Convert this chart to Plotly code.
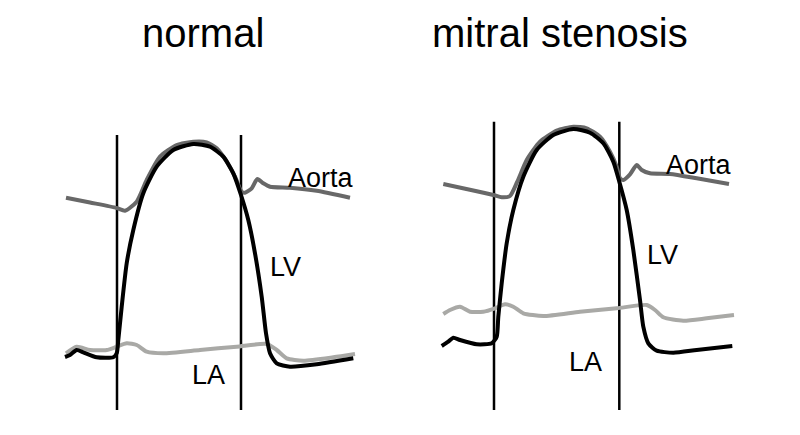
import plotly.graph_objects as go

# ---- normal panel (time in px-like units, pressure in screen-like units, y grows downward) ----
n_valve_t = [117, 241]
n_valve_y = [135, 410]

n_aorta_t = [66, 90, 116.7, 125, 136.7, 146.7, 160, 176.7, 193.3, 206.7, 216.7, 226.7, 235, 241.7,
             245, 251.7, 257.3, 263.3, 270, 290, 316.7, 350]
n_aorta_p = [197.7, 202.5, 208, 210.7, 201.7, 180, 156.7, 145, 141.7, 142.3, 148.3, 161.7, 176.7, 191.7,
             192.7, 188.3, 179, 183.3, 186.7, 187.7, 190.7, 197.7]

n_lv_t = [65, 70, 76.7, 83.3, 96.7, 113.3, 116.7, 118.3, 121.7, 126.7, 133.3, 143.3, 156.7, 173.3, 193.3,
          210, 223.3, 233.3, 241, 248.3, 255, 261.7, 266, 270, 276.7, 290, 316.7, 353.3]
n_lv_p = [357, 355, 350, 352.3, 357.3, 357.3, 353.3, 340, 306.7, 263.3, 230, 193.3, 166.7, 150, 144,
          146.7, 156.7, 173.3, 195, 220, 253.3, 296.7, 333.3, 353.3, 363.3, 366.7, 364.3, 358.3]

n_la_t = [66, 76.7, 90, 106.7, 116.7, 126.7, 136.7, 146.7, 163.3, 200, 236.7, 266.7, 276.7, 286.7,
          303.3, 333.3, 355]
n_la_p = [353.3, 346.7, 350, 350, 346.7, 343.3, 345, 351.7, 353.3, 350, 346.7, 344, 350, 358.3,
          360.7, 357.3, 354]

# ---- mitral stenosis panel ----
m_valve_t = [494, 619.3]
m_valve_y = [121.7, 410]

m_aorta_t = [443.3, 493.3, 501.7, 510, 517.3, 526.7, 540, 556.7, 573.3, 586.7, 600, 610, 616.7, 620,
             623.3, 630, 636.7, 641.7, 650, 670, 696.7, 729]
m_aorta_p = [184, 195, 197.3, 196, 181.7, 160, 141.7, 130.7, 126.7, 128.3, 136.7, 151.7, 166.7, 178.3,
             180, 174.3, 165, 170, 173.3, 174, 178.3, 184]

m_lv_t = [441.7, 448.3, 453.3, 460, 476.7, 491.7, 496.7, 498.3, 501.7, 506.7, 513.3, 523.3, 536.7, 553.3,
          573.3, 590, 603.3, 613.3, 619.3, 626.7, 633.3, 640, 643.3, 648.3, 656.7, 673.3, 696.7, 732.3]
m_lv_p = [346, 341.7, 337.7, 340, 344.3, 343.3, 336.7, 316.7, 283.3, 243.3, 210, 176.7, 150, 135,
          129, 132.7, 143.3, 161.7, 181.7, 210, 250, 300, 326.7, 343.3, 350.7, 352.7, 350, 346]

m_la_t = [443.3, 450, 460, 470, 483.3, 495, 505, 513.3, 523.3, 543.3, 580, 616.7, 646.7, 655, 663.3,
          683.3, 706.7, 734]
m_la_p = [314, 310, 306.7, 311.7, 311.7, 308.3, 304.3, 306.7, 313.3, 316, 311.7, 308.3, 305, 310, 317.3,
          320.7, 318.3, 315]

titles = ["normal", "mitral stenosis"]
title_x = [202.5, 560]
labels = ["Aorta", "LV", "LA", "Aorta", "LV", "LA"]
label_x = [321, 285, 208.3, 699.3, 662.3, 585]
label_y = [178.3, 266.7, 375, 165, 255, 361.7]

AORTA_C = "#686868"
LV_C = "#000000"
LA_C = "#a9a9a6"

fig = go.Figure()


def add_panel(vt, vy, at, ap, lt, lp, lat, lap):
    for t in vt:
        fig.add_trace(go.Scatter(x=[t, t], y=vy, mode="lines",
                                 line=dict(color="black", width=2.5), hoverinfo="skip"))
    fig.add_trace(go.Scatter(x=lat, y=lap, mode="lines", line=dict(color=LA_C, width=4, shape="spline", smoothing=0.6)))
    fig.add_trace(go.Scatter(x=at, y=ap, mode="lines", line=dict(color=AORTA_C, width=4, shape="spline", smoothing=0.6)))
    fig.add_trace(go.Scatter(x=lt, y=lp, mode="lines", line=dict(color=LV_C, width=4, shape="spline", smoothing=0.6)))


add_panel(n_valve_t, n_valve_y, n_aorta_t, n_aorta_p, n_lv_t, n_lv_p, n_la_t, n_la_p)
add_panel(m_valve_t, m_valve_y, m_aorta_t, m_aorta_p, m_lv_t, m_lv_p, m_la_t, m_la_p)

FONT = "Arial, Liberation Sans, sans-serif"
for t, x in zip(titles, title_x):
    fig.add_annotation(x=x, y=33, text=t, showarrow=False, xanchor="center", yanchor="middle",
                       font=dict(family=FONT, size=40, color="black"))
for t, x, y in zip(labels, label_x, label_y):
    fig.add_annotation(x=x, y=y, text=t, showarrow=False, xanchor="center", yanchor="middle",
                       font=dict(family=FONT, size=27, color="black"))

# the page body has an 8px margin: the figure starts at page (8, 8)
fig.update_layout(
    width=792, height=427, margin=dict(l=0, r=0, t=0, b=0),
    paper_bgcolor="white", plot_bgcolor="white", showlegend=False,
    xaxis=dict(range=[8, 800], visible=False, fixedrange=True),
    yaxis=dict(range=[435, 8], visible=False, fixedrange=True),
)
fig.write_html("out.html")
